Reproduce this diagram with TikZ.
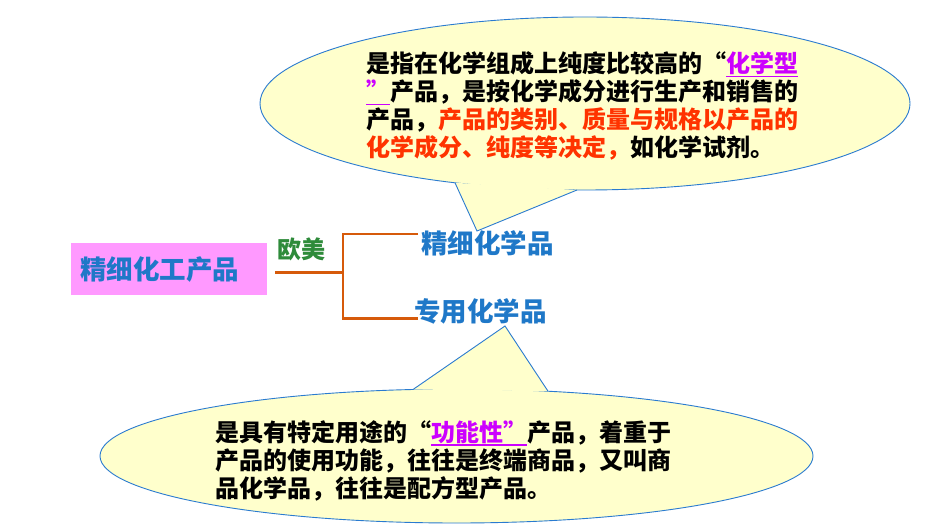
\documentclass[tikz,border=0pt]{standalone}
\usepackage{fontspec}
\newfontfamily\cjk{Noto Sans CJK SC}
\definecolor{bfill}{HTML}{FFFFCC}
\definecolor{bline}{HTML}{2A7BD0}
\definecolor{tblue}{HTML}{1F78C8}
\definecolor{pinkbg}{HTML}{FF99FF}
\definecolor{ogreen}{HTML}{2E8B3A}
\definecolor{oline}{HTML}{D65A0A}
\definecolor{tred}{HTML}{FF3300}
\definecolor{tpurp}{HTML}{CC00FF}
\newcommand\myul[1]{\setbox0\hbox{#1}\rlap{\rule[-4.5pt]{\wd0}{1.2pt}}\box0}
\newcommand\myoq{\makebox[1em][r]{“}}
\newcommand\mycq{\makebox[1em][l]{”}}
\tikzset{
  bubble/.style={fill=bfill, draw=bline, line width=0.9pt},
  bubblefill/.style={fill=bfill},
  tail/.style={draw=bline, line width=0.9pt, line join=miter},
  tx/.style={inner sep=0pt, outer sep=0pt, anchor=base west, text=black,
     font=\cjk\bfseries\fontsize{24}{28}\selectfont},
  bigtx/.style={inner sep=0pt, outer sep=0pt, anchor=base west, text=tblue,
     font=\cjk\bfseries\fontsize{26.5}{30}\selectfont},
  conn/.style={draw=oline, line width=2.5pt},
}
\begin{document}
\begin{tikzpicture}[x=1pt,y=-1pt]
\path[use as bounding box, fill=white] (0,0) rectangle (942,526);

% ---- top callout
\coordinate (ec1) at (585,103.5);
\coordinate (tl) at (455,182.8);
\coordinate (tt) at (477,231);
\coordinate (tr) at (577,190);
\path[bubble] (ec1) ellipse [x radius=325pt, y radius=86.5pt];
\fill[bubblefill] (tl) -- (tt) -- (tr) -- cycle;
\draw[tail] (tl) -- (tt) -- (tr);

% ---- bottom callout
\coordinate (ec2) at (456.5,456);
\coordinate (bl) at (413,389.5);
\coordinate (bt) at (505,326);
\coordinate (br) at (548,391.2);
\path[bubble] (ec2) ellipse [x radius=356.5pt, y radius=67pt];
\fill[bubblefill] (bl) -- (bt) -- (br) -- cycle;
\draw[tail] (bl) -- (bt) -- (br);

% ---- left box
\node[fill=pinkbg, minimum width=196pt, minimum height=52pt, inner sep=0pt,
      anchor=north west] (prodbox) at (71,243) {};
\node[bigtx] (prod) at (80,280) {精细化工产品};
\node[tx, text=ogreen, font=\cjk\bfseries\fontsize{24}{28}\selectfont] (eu) at (277,259) {欧美};

\node[bigtx] (fine) at (421,254) {精细化学品};
\node[bigtx] (spec) at (414,322) {专用化学品};

% ---- connectors
\coordinate (a) at (275,272.5);
\coordinate (fork) at (343,272.5);
\coordinate (ft) at (418,234);
\coordinate (st) at (418,318.7);
\draw[conn] (a) -- (fork);
\draw[conn] (ft) -| (fork) |- (st);

% ---- top text
\node[tx] (t1) at (366,73) {是指在化学组成上纯度比较高的\myoq\textcolor{tpurp}{\myul{化学型}}};
\node[tx] (t2) at (366,101) {\textcolor{tpurp}{\myul{\mycq}}产品，是按化学成分进行生产和销售的};
\node[tx] (t3) at (366,129) {产品，\textcolor{tred}{产品的类别、质量与规格以产品的}};
\node[tx] (t4) at (366,157) {\textcolor{tred}{化学成分、纯度等决定，}如化学试剂。};

% ---- bottom text
\node[tx] (b1) at (215,441) {是具有特定用途的\myoq\textcolor{tpurp}{\myul{功能性\mycq}}产品，着重于};
\node[tx] (b2) at (215,469) {产品的使用功能，往往是终端商品，又叫商};
\node[tx] (b3) at (215,497) {品化学品，往往是配方型产品。};
\end{tikzpicture}
\end{document}
